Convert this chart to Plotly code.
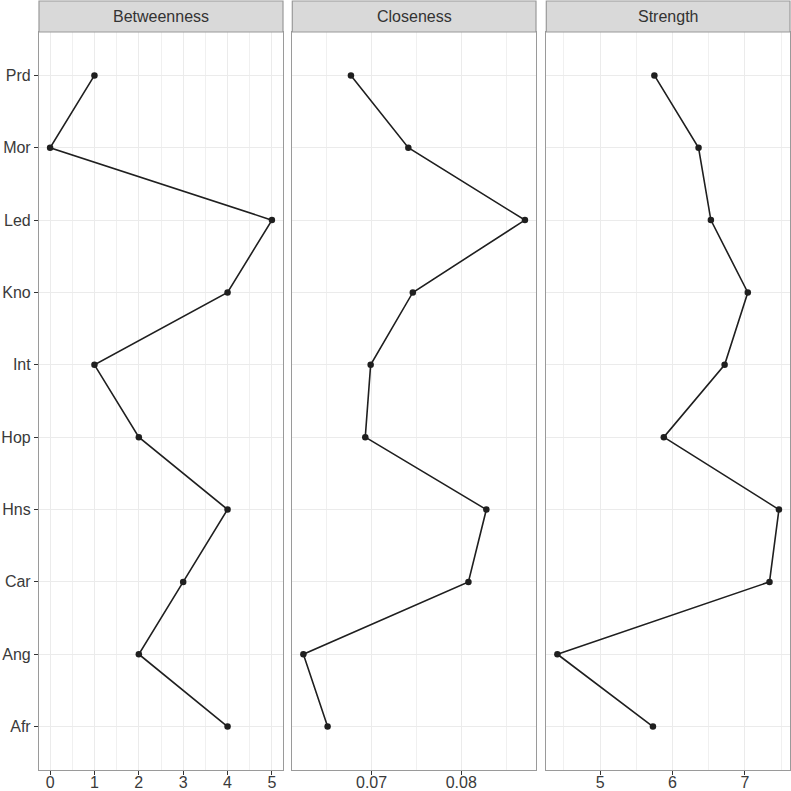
import plotly.graph_objects as go

# Nodes (bottom to top)
nodes = ["Afr", "Ang", "Car", "Hns", "Hop", "Int", "Kno", "Led", "Mor", "Prd"]
betweenness = [4, 2, 3, 4, 2, 1, 4, 5, 0, 1]
closeness = [0.0651, 0.0624, 0.0808, 0.0828, 0.0693, 0.0699, 0.0746, 0.0871, 0.0741, 0.0677]
strength = [5.73, 4.41, 7.34, 7.47, 5.88, 6.72, 7.04, 6.53, 6.36, 5.75]
panel_titles = ["Betweenness", "Closeness", "Strength"]
panel_data = [betweenness, closeness, strength]
x_dticks = [1, 0.01, 1]

W, H = 791, 791
ml, mr, mt, mb = 39, 1, 32, 21
pw = W - ml - mr
ph = H - mt - mb
domains = [(0.0, 244 / pw), ((292.3 - ml) / pw, (536 - ml) / pw), ((546.3 - ml) / pw, 1.0)]

FONT = "Liberation Sans, Arial, sans-serif"
GRID = "#ebebeb"
BORDER = "#9a9a9a"

fig = go.Figure()
layout = dict(
    width=W, height=H,
    margin=dict(l=ml, r=mr, t=mt, b=mb, autoexpand=False),
    paper_bgcolor="white", plot_bgcolor="white",
    showlegend=False,
    font=dict(family=FONT, size=16, color="#3a3a3a"),
)

shapes = []
annotations = []
strip_h = 31 / ph

for i, (title, vals, dt) in enumerate(zip(panel_titles, panel_data, x_dticks)):
    n = i + 1
    xa = "x" if n == 1 else f"x{n}"
    ya = "y" if n == 1 else f"y{n}"
    fig.add_trace(go.Scatter(
        x=vals, y=nodes, mode="lines+markers",
        line=dict(color="#1f1f1f", width=1.6),
        marker=dict(color="#1f1f1f", size=6.5),
        xaxis=xa, yaxis=ya, hoverinfo="skip",
    ))
    lo, hi = min(vals), max(vals)
    pad = 0.05 * (hi - lo)
    xkey = "xaxis" if n == 1 else f"xaxis{n}"
    ykey = "yaxis" if n == 1 else f"yaxis{n}"
    layout[xkey] = dict(
        domain=list(domains[i]), anchor=ya,
        range=[lo - pad, hi + pad], tick0=0, dtick=dt,
        showgrid=True, gridcolor=GRID, gridwidth=1,
        minor=dict(dtick=dt / 2, showgrid=True, gridcolor="#f0f0f0", gridwidth=0.6, ticks=""),
        ticks="outside", ticklen=4, tickcolor="#333333", tickwidth=1,
        ticklabelstandoff=-6,
        showline=True, mirror=True, linecolor=BORDER, linewidth=1.2,
        zeroline=False, tickfont=dict(size=16, color="#3a3a3a"),
        fixedrange=True, automargin=False,
    )
    layout[ykey] = dict(
        domain=[0, 1], anchor=xa,
        type="category", categoryorder="array", categoryarray=nodes,
        range=[-0.6, len(nodes) - 0.4],
        showgrid=True, gridcolor=GRID, gridwidth=1,
        showline=True, mirror=True, linecolor=BORDER, linewidth=1.2,
        zeroline=False,
        ticks="outside" if n == 1 else "", ticklen=4, tickcolor="#333333",
        showticklabels=(n == 1), tickfont=dict(size=16, color="#3a3a3a"),
        fixedrange=True, automargin=False,
    )
    # strip
    shapes.append(dict(
        type="rect", xref=f"{xa} domain", yref="paper",
        x0=0, x1=1, y0=1, y1=1 + strip_h,
        fillcolor="#d9d9d9", line=dict(color=BORDER, width=1.2), layer="above",
    ))
    annotations.append(dict(
        text=title, xref=f"{xa} domain", yref="paper",
        x=0.5, y=1 + strip_h / 2, showarrow=False,
        xanchor="center", yanchor="middle",
        font=dict(size=16, color="#333333", family=FONT),
    ))

layout["shapes"] = shapes
layout["annotations"] = annotations
fig.update_layout(**layout)
fig.write_html(
    "out.html",
    config={"displayModeBar": False},
    post_script="document.body.style.margin='0';document.body.style.overflow='hidden';",
)
